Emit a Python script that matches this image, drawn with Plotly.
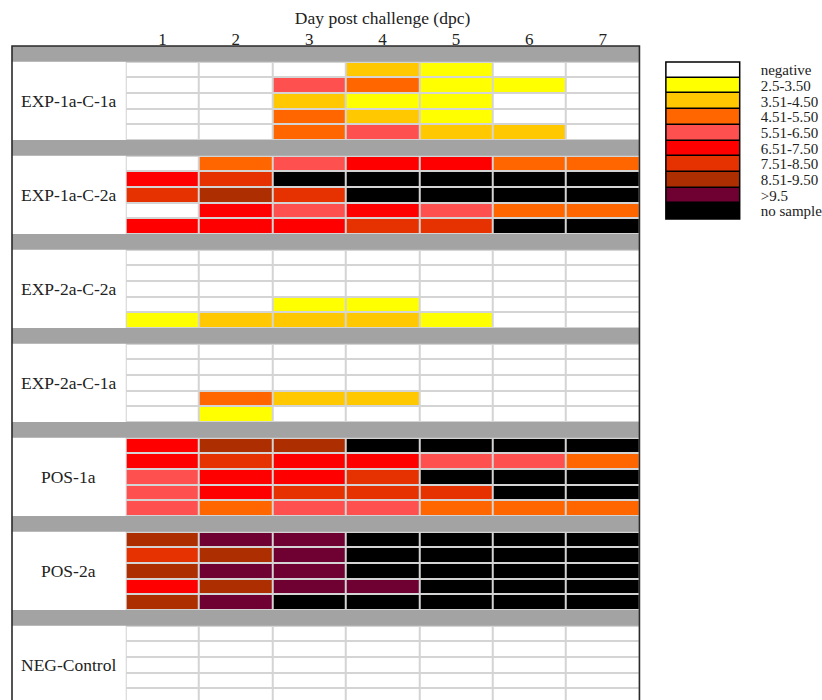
import plotly.graph_objects as go

# Viral load category per sample (rows) and day post challenge (columns).
# Codes: 0 negative, 1..8 load bins, 9 no sample.
days = [1, 2, 3, 4, 5, 6, 7]

exp_1a_c_1a = [
    [0, 0, 0, 2, 1, 0, 0],
    [0, 0, 4, 3, 1, 1, 0],
    [0, 0, 2, 1, 1, 0, 0],
    [0, 0, 3, 2, 1, 0, 0],
    [0, 0, 3, 4, 2, 2, 0],
]
exp_1a_c_2a = [
    [0, 3, 4, 5, 5, 3, 3],
    [5, 6, 9, 9, 9, 9, 9],
    [6, 7, 6, 9, 9, 9, 9],
    [0, 5, 4, 5, 4, 3, 3],
    [5, 5, 5, 6, 6, 9, 9],
]
exp_2a_c_2a = [
    [0, 0, 0, 0, 0, 0, 0],
    [0, 0, 0, 0, 0, 0, 0],
    [0, 0, 0, 0, 0, 0, 0],
    [0, 0, 1, 1, 0, 0, 0],
    [1, 2, 2, 2, 1, 0, 0],
]
exp_2a_c_1a = [
    [0, 0, 0, 0, 0, 0, 0],
    [0, 0, 0, 0, 0, 0, 0],
    [0, 0, 0, 0, 0, 0, 0],
    [0, 3, 2, 2, 0, 0, 0],
    [0, 1, 0, 0, 0, 0, 0],
]
pos_1a = [
    [5, 7, 7, 9, 9, 9, 9],
    [5, 6, 5, 5, 4, 4, 3],
    [4, 5, 5, 6, 9, 9, 9],
    [4, 5, 6, 6, 6, 9, 9],
    [4, 3, 4, 4, 3, 3, 3],
]
pos_2a = [
    [7, 8, 8, 9, 9, 9, 9],
    [6, 7, 8, 9, 9, 9, 9],
    [7, 8, 8, 9, 9, 9, 9],
    [5, 7, 8, 8, 9, 9, 9],
    [7, 8, 9, 9, 9, 9, 9],
]
neg_control = [
    [0, 0, 0, 0, 0, 0, 0],
    [0, 0, 0, 0, 0, 0, 0],
    [0, 0, 0, 0, 0, 0, 0],
    [0, 0, 0, 0, 0, 0, 0],
    [0, 0, 0, 0, 0, 0, 0],
]

group_names = ["EXP-1a-C-1a", "EXP-1a-C-2a", "EXP-2a-C-2a", "EXP-2a-C-1a",
               "POS-1a", "POS-2a", "NEG-Control"]
group_data = [exp_1a_c_1a, exp_1a_c_2a, exp_2a_c_2a, exp_2a_c_1a,
              pos_1a, pos_2a, neg_control]

category_labels = ["negative", "2.5-3.50", "3.51-4.50", "4.51-5.50", "5.51-6.50",
                   "6.51-7.50", "7.51-8.50", "8.51-9.50", ">9.5", "no sample"]
category_colors = ["#FFFFFF", "#FFFF00", "#FFC800", "#FF6600", "#FF5050",
                   "#FF0000", "#E63200", "#AD2E00", "#6E0032", "#000000"]

FONT = "Liberation Serif, Times New Roman, serif"
TEXT = "#222222"
GRID = "#D4D4D4"
BAND = "#A3A3A3"

# Discrete colour scale: one flat band per category code
n = len(category_colors)
colorscale = []
for i, c in enumerate(category_colors):
    colorscale.append([i / n, c])
    colorscale.append([(i + 1) / n, c])

# Each group takes 6 row slots: a grey separator followed by 5 samples
rows_per_group = 6
z, y = [], []
for g, block in enumerate(group_data):
    base = g * rows_per_group
    z.append([None] * len(days))
    y.append(base)
    for r, row in enumerate(block):
        z.append(row)
        y.append(base + 1 + r)

W, H = 822, 700
ml, mr, mt, mb = 12, 0, 46, 0
pw, ph = W - ml - mr, H - mt - mb
box_right = (641 - ml) / pw
label_right = (126 - ml) / pw
row_px = 15.67
y_bottom = -0.5 + ph / row_px

fig = go.Figure()
fig.add_trace(go.Heatmap(
    x=days, y=y, z=z, zmin=-0.5, zmax=n - 0.5,
    colorscale=colorscale, showscale=False, xgap=2, ygap=2,
    hoverinfo="skip", xaxis="x", yaxis="y",
))

# Category key drawn as a one-column heatmap
fig.add_trace(go.Heatmap(
    x=[0], y=list(range(n)), z=[[i] for i in range(n)],
    zmin=-0.5, zmax=n - 0.5, colorscale=colorscale, showscale=False,
    ygap=1.5, hoverinfo="skip", xaxis="x2", yaxis="y2",
))

shapes = []
# grey separator bands spanning the label column and the grid
for g in range(len(group_data)):
    yc = g * rows_per_group
    shapes.append(dict(type="rect", xref="paper", yref="y", layer="below",
                       x0=0, x1=box_right, y0=yc - 0.5, y1=yc + 0.5,
                       fillcolor=BAND, line=dict(width=0)))
# outer frame (bottom edge runs off the page)
shapes.append(dict(type="rect", xref="paper", yref="paper", layer="above",
                   x0=0, x1=box_right, y0=-0.05, y1=1,
                   line=dict(color="#2A2A2A", width=1.6), fillcolor="rgba(0,0,0,0)"))
# key background / frame
shapes.append(dict(type="rect", xref="x2 domain", yref="y2 domain", layer="below",
                   x0=0, x1=1, y0=0, y1=1, fillcolor="#000000",
                   line=dict(width=0)))
shapes.append(dict(type="rect", xref="x2 domain", yref="y2 domain", layer="above",
                   x0=0, x1=1, y0=0, y1=1, fillcolor="rgba(0,0,0,0)",
                   line=dict(color="#000000", width=1.5)))

annotations = []
for g, name in enumerate(group_names):
    annotations.append(dict(
        x=(label_right / 2), xref="paper", y=g * rows_per_group + 3, yref="y",
        text=name, showarrow=False, xanchor="center", yanchor="middle",
        font=dict(family=FONT, size=17.5, color=TEXT),
    ))

fig.update_layout(
    width=W, height=H,
    margin=dict(l=ml, r=mr, t=mt, b=mb, pad=0),
    paper_bgcolor="#FFFFFF", plot_bgcolor=GRID,
    font=dict(family=FONT, color=TEXT),
    shapes=shapes, annotations=annotations,
    xaxis=dict(
        domain=[label_right, box_right], range=[0.5, 7.5], side="top",
        tickvals=days, ticktext=[str(d) for d in days],
        ticks="", ticklabelstandoff=-3,
        showgrid=False, zeroline=False, showline=False,
        tickfont=dict(family=FONT, size=17, color=TEXT),
        title=dict(text="Day post challenge (dpc)", standoff=0,
                   font=dict(family=FONT, size=17.5, color=TEXT)),
        fixedrange=True,
    ),
    yaxis=dict(
        domain=[0, 1], range=[y_bottom, -0.5], showticklabels=False,
        ticks="", showgrid=False, zeroline=False, showline=False, fixedrange=True,
    ),
    xaxis2=dict(
        domain=[(667.5 - ml) / pw, (741.5 - ml) / pw], range=[-0.5, 0.5],
        visible=False, anchor="y2", fixedrange=True,
    ),
    yaxis2=dict(
        domain=[(H - 219) / ph, (H - 62) / ph], range=[n - 0.5, -0.5],
        anchor="x2", side="right", tickvals=list(range(n)), ticktext=category_labels,
        ticks="outside", ticklen=17, tickcolor="rgba(0,0,0,0)",
        showgrid=False, zeroline=False, showline=False, fixedrange=True,
        tickfont=dict(family=FONT, size=15, color=TEXT),
    ),
)

fig.write_html("out.html", config={"displayModeBar": False})
